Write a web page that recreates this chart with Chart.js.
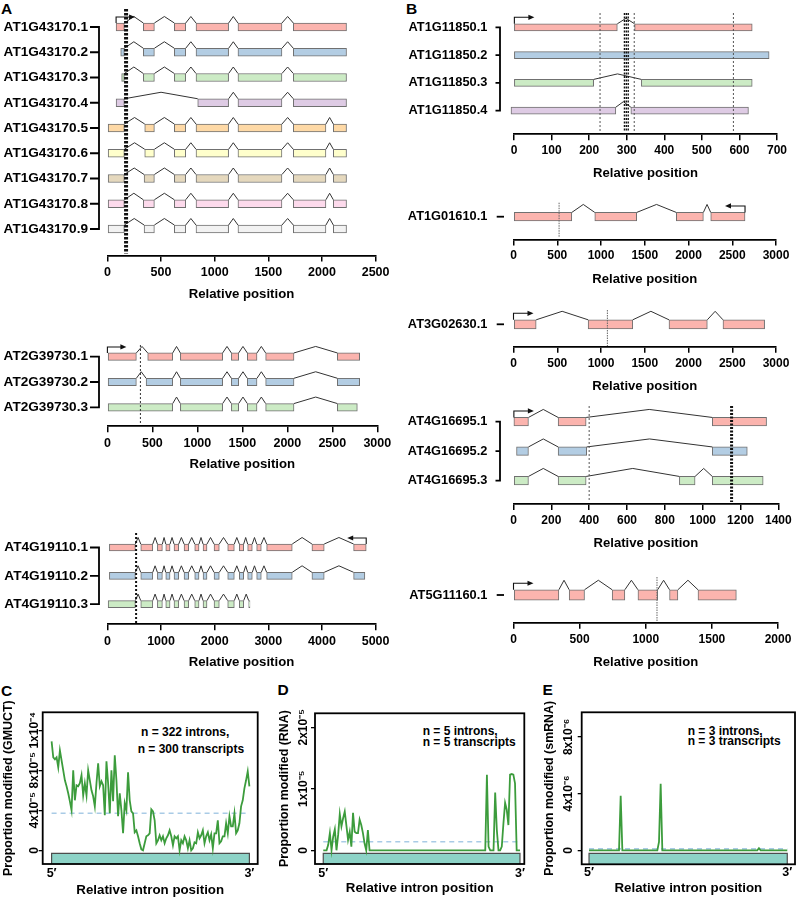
<!DOCTYPE html>
<html><head><meta charset="utf-8">
<script src="https://cdn.jsdelivr.net/npm/chart.js@4.4.1/dist/chart.umd.min.js"></script>
<style>
html,body{margin:0;padding:0;background:#fff;}
#page{position:relative;width:797px;height:899px;overflow:hidden;font-family:'Liberation Sans',Arial,Helvetica,sans-serif;}
canvas{position:absolute;}
.t{position:absolute;font-weight:bold;color:#000;white-space:nowrap;line-height:1;}
.let{font-size:15.5px;}
.ann{font-size:12px;}
</style></head><body><div id="page">
<div class="t let" style="left:1px;top:1.3px">A</div>
<div class="t let" style="left:406px;top:1.3px">B</div>
<div class="t let" style="left:1px;top:683px">C</div>
<div class="t let" style="left:277.5px;top:682px">D</div>
<div class="t let" style="left:542.5px;top:682px">E</div>
<div class="t ann" style="left:141px;top:725.8px">n = 322 introns,</div>
<div class="t ann" style="left:137.7px;top:742.5px">n = 300 transcripts</div>
<div class="t ann" style="left:422.7px;top:725.2px">n = 5 introns,</div>
<div class="t ann" style="left:422.7px;top:736.2px">n = 5 transcripts</div>
<div class="t ann" style="left:687.7px;top:724.8px">n = 3 introns,</div>
<div class="t ann" style="left:687.7px;top:735.4px">n = 3 transcripts</div>
</div>
<script>
// ---------------- DATA ----------------
const PASTEL = ['#FBB4AE','#B3CDE3','#CCEBC5','#DECBE4','#FED9A6','#FFFFCC','#E5D8BD','#FDDAEC','#F2F2F2'];

// Panel A: AT1G43170
const A1_names = ['AT1G43170.1','AT1G43170.2','AT1G43170.3','AT1G43170.4','AT1G43170.5','AT1G43170.6','AT1G43170.7','AT1G43170.8','AT1G43170.9'];
const A1_exons = [
  [[81,158],[335,438],[624,730],[826,1130],[1217,1627],[1733,2229]],
  [[124,158],[335,438],[624,730],[826,1130],[1217,1627],[1733,2229]],
  [[133,158],[335,438],[624,730],[826,1130],[1217,1627],[1733,2229]],
  [[81,158],[842,1130],[1217,1627],[1733,2229]],
  [[0,158],[348,438],[624,730],[826,1130],[1217,1627],[1733,2037],[2106,2229]],
  [[0,158],[348,438],[624,730],[826,1130],[1217,1627],[1733,2037],[2106,2229]],
  [[0,158],[342,438],[624,730],[826,1130],[1217,1627],[1733,2037],[2106,2229]],
  [[0,158],[335,438],[624,730],[826,1130],[1217,1627],[1733,2037],[2106,2229]],
  [[0,158],[342,438],[624,730],[826,1130],[1217,1627],[1733,2037],[2106,2229]]
];
const A1_sitesThin = [];
const A1_sitesThick = [174];
const A1_ticks = [0,500,1000,1500,2000,2500];

// AT2G39730
const A2_names = ['AT2G39730.1','AT2G39730.2','AT2G39730.3'];
const A2_exons = [
  [[0,322],[448,726],[811,1281],[1378,1459],[1555,1663],[1759,2074],[2556,2804]],
  [[0,322],[430,726],[811,1281],[1378,1459],[1555,1663],[1759,2074],[2556,2804]],
  [[0,726],[811,1281],[1378,1459],[1555,1663],[1759,2074],[2556,2778]]
];
const A2_sitesThin = [367];
const A2_sitesThick = [];
const A2_ticks = [0,500,1000,1500,2000,2500,3000];

// AT4G19110
const A3_names = ['AT4G19110.1','AT4G19110.2','AT4G19110.3'];
const A3_exons = [
  [[37,522],[622,846],[932,1025],[1088,1168],[1242,1330],[1429,1516],[1628,1708],[1783,1857],[1988,2086],[2243,2366],[2459,2541],[2615,2701],[2783,2869],[2969,3446],[3813,4042],[4590,4825]],
  [[37,522],[622,846],[932,1025],[1088,1168],[1242,1330],[1429,1516],[1628,1708],[1783,1857],[1988,2086],[2243,2366],[2459,2541],[2615,2701],[2783,2869],[2969,3446],[3813,4042],[4590,4800]],
  [[0,522],[622,846],[932,1025],[1088,1168],[1242,1330],[1429,1516],[1628,1708],[1783,1857],[1988,2086],[2243,2366],[2459,2541],[2634,2658]]
];
const A3_sitesThin = [];
const A3_sitesThick = [535];
const A3_ticks = [0,1000,2000,3000,4000,5000];

// Panel B: AT1G11850
const B1_names = ['AT1G11850.1','AT1G11850.2','AT1G11850.3','AT1G11850.4'];
const B1_exons = [
  [[1,275],[321,634]],
  [[1,679]],
  [[1,212],[339,634]],
  [[-8,271],[311,624]]
];
const B1_sitesThin = [229,320,584];
const B1_sitesThick = [294,299,304];
const B1_ticks = [0,100,200,300,400,500,600,700];

// AT1G01610
const B2_names = ['AT1G01610.1'];
const B2_exons = [[[0,666],[929,1408],[1861,2170],[2254,2646]]];
const B2_sitesThin = [521];
const B2_sitesThick = [];
const B2_ticks = [0,500,1000,1500,2000,2500,3000];

// AT3G02630
const B3_names = ['AT3G02630.1'];
const B3_exons = [[[0,259],[853,1363],[1777,2215],[2394,2870]]];
const B3_sitesThin = [1073];
const B3_sitesThick = [];
const B3_ticks = [0,500,1000,1500,2000,2500,3000];

// AT4G16695
const B4_names = ['AT4G16695.1','AT4G16695.2','AT4G16695.3'];
const B4_exons = [
  [[2,79],[236,384],[1051,1338]],
  [[16,79],[236,387],[1051,1236]],
  [[0,79],[236,384],[877,960],[1051,1320]]
];
const B4_sitesThin = [400];
const B4_sitesThick = [1153];
const B4_ticks = [0,200,400,600,800,1000,1200,1400];

// AT5G11160
const B5_names = ['AT5G11160.1'];
const B5_exons = [[[0,343],[421,537],[746,842],[941,1090],[1180,1243],[1395,1685]]];
const B5_sitesThin = [1085];
const B5_sitesThick = [];
const B5_ticks = [0,500,1000,1500,2000];

// Panels C-E: metagene profiles (C, D in units of 1e-5; E in units of 1e-6)
const C_values = [
  10.9,9.3,9.1,9.3,8.3,10.0,9.0,8.0,7.0,6.4,
  5.7,4.9,4.0,8.0,5.0,6.5,6.4,6.7,7.5,5.5,
  6.7,5.5,8.0,7.0,6.0,5.4,4.4,6.7,8.7,6.4,
  6.9,6.5,3.5,8.9,6.7,3.7,8.0,4.9,9.5,7.0,
  3.4,5.7,4.0,1.7,4.7,4.0,7.8,5.0,3.9,3.7,
  1.8,2.0,1.4,0.7,0.1,0,0.7,1.4,1.5,1.7,
  4.1,3.9,3.0,0.7,1.0,1.5,1.0,1.4,0.7,1.2,
  1.5,2.0,1.4,0.5,1.4,1.2,1.4,0,1.0,0.7,
  1.4,1.0,0.2,1.0,0,0.2,0.8,0.7,1.8,1.2,
  1.5,2.0,0.7,1.4,1.8,1.0,1.6,0.2,1.7,1.7,
  3.0,0.7,0.9,1.4,1.4,2.7,1.7,3.4,2.4,2.4,
  3.7,1.7,2.0,2.7,4.4,5.0,6.2,7.0,7.9,6.4
];
const C_mean = 3.7;
const C_ticks = [0,4,8,12];
const C_tickLabels = ['0','4x10\u207B\u2075','8x10\u207B\u2075','1x10\u207B\u2074'];

const D_values = [
  0,0,0,0.09,0.28,0,0.22,0.34,0,0.25,
  0.59,0.39,0.52,0.63,0.4,0.17,0.3,0.06,0.61,0.3,
  0.28,0.28,0.5,0.41,0.28,0.11,0,0.33,0,0,
  0,0,0,0,0,0,0,0,0,0,
  0,0,0,0,0,0,0,0,0,0,
  0,0,0,0,0,0,0,0,0,0,
  0,0,0,0,0,0,0,0,0,0,
  0,0,0,0,0,0,0,0,0,0,
  0,0,0,0,0,0,0,0,0,0,
  0,0,0,0,0,0,0,0,0,1.23,
  0.06,0,0,0,0.94,0.33,0,0,0.06,0.44,
  0.77,0.66,0.41,1.23,1.24,1.23,1.09,0,0,0
];
const D_mean = 0.14;
const D_ticks = [0,1,2];
const D_tickLabels = ['0','1x10\u207B\u2075','2x10\u207B\u2075'];

const E_values = [
  0,0,0,0,0,0,0,0,0,0,
  0,0,0,0,0,0,0,0,0,3.85,
  0,0,0,0,0,0,0,0,0,0,
  0,0,0,0,0,0,0,0,0,0,
  0,0,0.6,4.7,0,0,0,0,0,0,
  0,0,0,0,0,0,0,0,0,0,
  0,0,0,0,0,0,0,0,0,0,
  0,0,0,0,0,0,0,0,0,0,
  0,0,0,0,0,0,0,0,0,0,
  0,0,0,0,0,0,0,0,0,0,
  0,0,0.15,0,0,0,0,0,0,0,
  0,0,0,0,0,0,0,0,0,0
];
const E_mean = 0.1;
const E_ticks = [0,4,8];
const E_tickLabels = ['0','4x10\u207B\u2076','8x10\u207B\u2076'];

const X_tickLabels = ['5\u2032','3\u2032'];

// ---------------- RENDERING ----------------
const FONT = "'Liberation Sans', Arial, Helvetica, sans-serif";
Chart.defaults.font.family = FONT;
Chart.defaults.color = '#000';
const page = document.getElementById('page');

function mkCanvas(l, t, w, h) {
  const c = document.createElement('canvas');
  c.width = w; c.height = h;
  c.style.left = l + 'px'; c.style.top = t + 'px';
  c.style.width = w + 'px'; c.style.height = h + 'px';
  page.appendChild(c);
  return c;
}

function geneChart(d, L) {
  const n = d.names.length;
  const titleY = L.axisY + L.titleOff;
  const cBottom = titleY + 10;
  const cTop = L.top;
  const cH = Math.round(cBottom - cTop);
  const cW = L.width;
  const cv = mkCanvas(L.left, cTop, cW, cH);
  const areaBottom = L.axisY - cTop;
  const yMin = 1 - (L.row1 - cTop) / L.rowSp;
  const yMax = yMin + areaBottom / L.rowSp;
  const u = 1 / L.rowSp;
  const h = L.thick / 2 * u, p = L.peak * u;
  const ds = [];
  const barData = [], barColors = [];
  d.exons.forEach((tr, r) => {
    tr.forEach(e => { barData.push({y: r + 1, x: e}); barColors.push(PASTEL[r]); });
  });
  ds.push({type: 'bar', data: barData, backgroundColor: barColors, borderColor: '#707070', borderWidth: 1,
           borderSkipped: false, barThickness: L.thick, clip: false, order: 1});
  d.exons.forEach((tr, r) => {
    const pts = [];
    for (let k = 1; k < tr.length; k++) {
      const a = tr[k - 1][1], b = tr[k][0];
      pts.push({x: a, y: r + 1 - h}, {x: (a + b) / 2, y: r + 1 - h - p}, {x: b, y: r + 1 - h}, {x: null, y: null});
    }
    if (pts.length) ds.push({type: 'line', data: pts, borderColor: '#333', borderWidth: 1, pointRadius: 0,
                             fill: false, spanGaps: false, clip: false, tension: 0, order: 2});
  });
  const sTop = yMin + (L.siteY[0] - cTop) * u, sBot = yMin + (L.siteY[1] - cTop) * u;
  d.sitesThin.forEach(s => ds.push({type: 'line', data: [{x: s, y: sTop}, {x: s, y: sBot}], borderColor: L.thinColor,
      borderWidth: 1, borderDash: L.thinDash, pointRadius: 0, clip: false, order: 0}));
  d.sitesThick.forEach(s => ds.push({type: 'line', data: [{x: s, y: sTop}, {x: s, y: sBot}], borderColor: '#111',
      borderWidth: L.thickW, borderDash: L.thickDash, pointRadius: 0, clip: false, order: 0}));
  const tickLH = L.tickSize * 1.2, titleLH = L.titleSize * 1.2;
  const xH = cH - areaBottom;
  const deco = {
    id: 'geneDeco',
    afterDatasetsDraw(chart) {
      const ctx = chart.ctx, xs = chart.scales.x, ys = chart.scales.y;
      ctx.save();
      ctx.strokeStyle = '#000'; ctx.lineWidth = 1.8; ctx.lineCap = 'butt';
      const bx = L.brX - L.left, bl = L.brL - L.left;
      const y1 = ys.getPixelForValue(1), yN = ys.getPixelForValue(n);
      ctx.beginPath();
      if (n > 1) { ctx.moveTo(bx, y1 - 0.9); ctx.lineTo(bx, yN + 0.9); }
      for (let r = 1; r <= n; r++) { const y = ys.getPixelForValue(r); ctx.moveTo(bl, y); ctx.lineTo(bx, y); }
      ctx.stroke();
      const tr = d.exons[0];
      const sx = d.strand > 0 ? tr[0][0] : tr[tr.length - 1][1];
      const px = xs.getPixelForValue(sx), py = y1 - L.thick / 2, uy = py - L.arrowUp;
      const ex = px + d.strand * L.arrowLen;
      ctx.lineWidth = 1.1; ctx.strokeStyle = '#111';
      ctx.beginPath(); ctx.moveTo(px, py); ctx.lineTo(px, uy); ctx.lineTo(ex - d.strand * 4, uy); ctx.stroke();
      ctx.fillStyle = '#111';
      ctx.beginPath(); ctx.moveTo(ex, uy); ctx.lineTo(ex - d.strand * 6, uy - 2.6); ctx.lineTo(ex - d.strand * 6, uy + 2.6);
      ctx.closePath(); ctx.fill();
      ctx.restore();
    }
  };
  new Chart(cv, {
    type: 'bar',
    data: {datasets: ds},
    options: {
      indexAxis: 'y', responsive: false, maintainAspectRatio: false, animation: false, devicePixelRatio: 1, events: [],
      layout: {padding: {left: 0, top: 0, right: cW - (L.chartR - L.left), bottom: 0}},
      plugins: {legend: {display: false}, tooltip: {enabled: false}, title: {display: false}},
      scales: {
        x: {
          type: 'linear', position: 'bottom', offset: false, min: d.ticks[0], max: d.ticks[d.ticks.length - 1],
          afterBuildTicks: s => { s.ticks = d.ticks.map(v => ({value: v})); },
          afterFit: s => { s.height = xH; s.paddingLeft = 0; s.paddingRight = 0; },
          grid: {display: true, offset: false, drawOnChartArea: false, drawTicks: true, tickLength: 6, color: '#000', lineWidth: 1.5},
          border: {display: true, color: '#000', width: 1.8},
          ticks: {autoSkip: false, maxRotation: 0, minRotation: 0, padding: L.tickOff - 6 - tickLH / 2,
                  font: {size: L.tickSize, weight: 'bold'}, color: '#000', callback: v => String(v)},
          title: {display: true, text: 'Relative position', color: '#000', font: {size: L.titleSize, weight: 'bold'},
                  padding: {top: 0, bottom: (cBottom - titleY) - titleLH / 2}}
        },
        y: {
          type: 'linear', position: 'left', reverse: true, offset: false, min: yMin, max: yMax,
          afterBuildTicks: s => { s.ticks = d.names.map((_, i) => ({value: i + 1})); },
          afterFit: s => { s.width = L.chartL - L.left; s.paddingTop = 0; s.paddingBottom = 0; },
          grid: {display: false, offset: false, drawTicks: false}, border: {display: false},
          ticks: {autoSkip: false, padding: L.chartL - L.labelR, font: {size: L.labelSize, weight: 'bold'}, color: '#000',
                  callback: v => d.names[Math.round(v) - 1] || ''}
        }
      }
    },
    plugins: [deco]
  });
}

const A_style = {left: 0, width: 400, chartL: 107.4, labelSize: 13.6, labelR: 88, tickSize: 12.5, titleSize: 13.2,
  tickOff: 17, titleOff: 38, brX: 99, brL: 90, thinColor: '#333', thinDash: [2, 2], thickDash: [2, 2], arrowUp: 6, arrowLen: 19};
const B_style = {left: 400, width: 397, chartL: 513.5, labelSize: 12.8, labelR: 487.3, tickSize: 12, titleSize: 13.1,
  tickOff: 16.5, titleOff: 39, brX: 504, brL: 496.7, thinColor: '#666', thinDash: [1.5, 1], thickDash: [2, 1.5], arrowUp: 6.5, arrowLen: 20};

geneChart({names: A1_names, exons: A1_exons, sitesThin: A1_sitesThin, sitesThick: A1_sitesThick, ticks: A1_ticks, strand: 1},
  Object.assign({}, A_style, {top: 2, chartR: 375.6, row1: 27, rowSp: 25.25, axisY: 255.5, thick: 8, peak: 6.5, siteY: [9, 253.5], thickW: 4, thickDash: [2.5, 1.5]}));
geneChart({names: A2_names, exons: A2_exons, sitesThin: A2_sitesThin, sitesThick: A2_sitesThick, ticks: A2_ticks, strand: 1},
  Object.assign({}, A_style, {top: 330, chartR: 377.3, row1: 356.7, rowSp: 25.3, axisY: 426.3, thick: 7.5, peak: 6.5, siteY: [345, 425], thickW: 2}));
geneChart({names: A3_names, exons: A3_exons, sitesThin: A3_sitesThin, sitesThick: A3_sitesThick, ticks: A3_ticks, strand: -1},
  Object.assign({}, A_style, {top: 515, chartR: 375.6, row1: 547.5, rowSp: 28.3, axisY: 624.3, thick: 7, peak: 6.5, siteY: [533, 623], thickW: 2}));

geneChart({names: B1_names, exons: B1_exons, sitesThin: B1_sitesThin, sitesThick: B1_sitesThick, ticks: B1_ticks, strand: 1},
  Object.assign({}, B_style, {top: 2, chartL: 514, chartR: 777, row1: 27.3, rowSp: 27.8, axisY: 134.3, thick: 7, peak: 5.5,
    siteY: [13, 132], thickW: 1.4, brX: 500, brL: 495.5, thinColor: '#555', thinDash: [2, 2]}));
geneChart({names: B2_names, exons: B2_exons, sitesThin: B2_sitesThin, sitesThick: B2_sitesThick, ticks: B2_ticks, strand: -1},
  Object.assign({}, B_style, {top: 190, chartR: 776, row1: 216.7, rowSp: 28, axisY: 239.5, thick: 8.5, peak: 8, siteY: [202.7, 237]}));
geneChart({names: B3_names, exons: B3_exons, sitesThin: B3_sitesThin, sitesThick: B3_sitesThick, ticks: B3_ticks, strand: 1},
  Object.assign({}, B_style, {top: 298, chartR: 776, row1: 324.3, rowSp: 28, axisY: 346.7, thick: 9, peak: 8.5, siteY: [310, 346]}));
geneChart({names: B4_names, exons: B4_exons, sitesThin: B4_sitesThin, sitesThick: B4_sitesThick, ticks: B4_ticks, strand: 1},
  Object.assign({}, B_style, {top: 395, chartR: 778.3, row1: 421.7, rowSp: 29.5, axisY: 504, thick: 8.5, peak: 8,
    siteY: [406, 502], thickW: 3, brX: 500, brL: 495.5, thinColor: '#555', thinDash: [2, 2], thickDash: [2, 1.5]}));
geneChart({names: B5_names, exons: B5_exons, sitesThin: B5_sitesThin, sitesThick: B5_sitesThick, ticks: B5_ticks, strand: 1},
  Object.assign({}, B_style, {top: 565, chartR: 778, row1: 595, rowSp: 28, axisY: 622.7, thick: 10.5, peak: 9.5, siteY: [577, 621]}));

// ---- profile charts ----
const measureCtx = document.createElement('canvas').getContext('2d');
function profChart(p, L) {
  const cv = mkCanvas(L.left, L.top, L.width, L.height);
  const N = p.values.length;
  const pts = p.values.map((v, i) => ({x: i / (N - 1), y: v}));
  const tickFont = {size: 12, weight: 'bold'};
  measureCtx.font = 'normal bold ' + tickFont.size + 'px ' + FONT;
  const widest = Math.max(...p.tickLabels.map(s => measureCtx.measureText(s).width));
  const yW = L.chartL - L.left;
  const tl = 4;
  const yPad = yW - tl - widest / 2 - (L.labelCx - L.left);
  const cBottom = L.top + L.height;
  const xH = cBottom - L.boxBottom;
  const xLH = 12.5 * 1.2, tLH = 13.3 * 1.2, yTLH = 12.4 * 1.2;
  const box = {
    id: 'box',
    afterDatasetsDraw(chart) {
      const a = chart.chartArea, ctx = chart.ctx;
      ctx.save(); ctx.strokeStyle = '#000'; ctx.lineWidth = 1.8;
      ctx.strokeRect(a.left, a.top, a.right - a.left, a.bottom - a.top);
      ctx.restore();
    }
  };
  new Chart(cv, {
    type: 'line',
    data: {datasets: [
      {data: pts, borderColor: '#3c9c3c', borderWidth: 1.8, pointRadius: 0, fill: false, tension: 0, order: 1},
      {data: [{x: 0, y: p.mean}, {x: 1, y: p.mean}], borderColor: '#a9cbe6', borderWidth: 1.6, borderDash: [5, 4],
       pointRadius: 0, fill: false, order: 2},
      {data: [{x: 0, y: L.yMin}, {x: 0, y: p.barTop}, {x: 1, y: p.barTop}, {x: 1, y: L.yMin}],
       borderColor: '#4d4d4d', borderWidth: 1.2, backgroundColor: '#8DD3C7', fill: 'start', pointRadius: 0, order: 3}
    ]},
    options: {
      responsive: false, maintainAspectRatio: false, animation: false, devicePixelRatio: 1, events: [],
      layout: {padding: {left: 0, top: L.boxTop - L.top, right: L.width - (L.chartR - L.left), bottom: 0}},
      plugins: {legend: {display: false}, tooltip: {enabled: false}},
      scales: {
        x: {
          type: 'linear', offset: false, min: L.xMin, max: L.xMax,
          afterBuildTicks: s => { s.ticks = [{value: 0}, {value: 1}]; },
          afterFit: s => { s.height = xH; s.paddingLeft = 0; s.paddingRight = 0; },
          grid: {display: false, drawTicks: false}, border: {display: false},
          ticks: {autoSkip: false, maxRotation: 0, padding: (L.xLabelY - L.boxBottom) - xLH / 2,
                  font: {size: 12.5, weight: 'bold'}, color: '#000', callback: (v, i) => X_tickLabels[i]},
          title: {display: true, text: 'Relative intron position', color: '#000', font: {size: 13.3, weight: 'bold'},
                  padding: {top: 0, bottom: (cBottom - L.xTitleY) - tLH / 2}}
        },
        y: {
          type: 'linear', offset: false, min: L.yMin, max: L.yMax,
          afterBuildTicks: s => { s.ticks = p.ticks.map(v => ({value: v})); },
          afterFit: s => { s.width = yW; s.paddingTop = 0; s.paddingBottom = 0; },
          grid: {display: true, drawOnChartArea: false, drawTicks: true, tickLength: tl, color: '#000', lineWidth: 1.3},
          border: {display: false},
          ticks: {autoSkip: false, minRotation: 90, maxRotation: 90, crossAlign: 'center', padding: yPad,
                  font: tickFont, color: '#000', callback: (v, i) => p.tickLabels[i]},
          title: {display: true, text: p.ytitle, color: '#000', font: {size: 12.4, weight: 'bold'},
                  padding: {top: (L.yTitleX - L.left) - yTLH / 2, bottom: 0}}
        }
      }
    },
    plugins: [box]
  });
}

profChart({values: C_values, mean: C_mean, ticks: C_ticks, tickLabels: C_tickLabels, barTop: -0.3, ytitle: 'Proportion modified (GMUCT)'},
  {left: 0, top: 670, width: 265, height: 229, chartL: 42.7, chartR: 257.7, boxTop: 712.3, boxBottom: 864,
   yMin: -1.37, yMax: 13.8, xMin: -0.045, xMax: 1.042, labelCx: 35, yTitleX: 8.3, xLabelY: 873.3, xTitleY: 890});
profChart({values: D_values, mean: D_mean, ticks: D_ticks, tickLabels: D_tickLabels, barTop: -0.049, ytitle: 'Proportion modified (RNA)'},
  {left: 265, top: 670, width: 265, height: 229, chartL: 315, chartR: 524.3, boxTop: 713.3, boxBottom: 864,
   yMin: -0.223, yMax: 2.228, xMin: -0.042, xMax: 1.022, labelCx: 303.3, yTitleX: 285, xLabelY: 873.7, xTitleY: 888.5});
profChart({values: E_values, mean: E_mean, ticks: E_ticks, tickLabels: E_tickLabels, barTop: -0.21, ytitle: 'Proportion modified (smRNA)'},
  {left: 530, top: 670, width: 267, height: 229, chartL: 581.7, chartR: 795, boxTop: 712.3, boxBottom: 864.3,
   yMin: -0.988, yMax: 9.74, xMin: -0.037, xMax: 1.039, labelCx: 568.3, yTitleX: 550, xLabelY: 872.7, xTitleY: 888.5});
</script></body></html>
